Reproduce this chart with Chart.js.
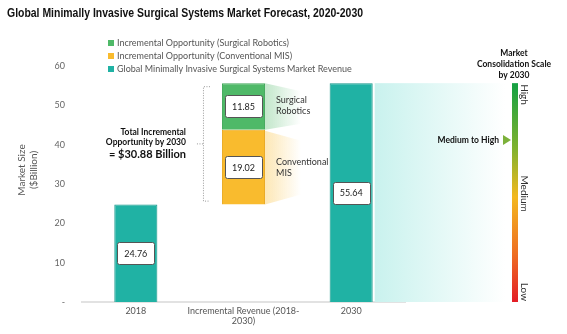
<!DOCTYPE html>
<html>
<head>
<meta charset="utf-8">
<script src="https://cdn.jsdelivr.net/npm/chart.js@4"></script>
<style>
  html, body { margin: 0; padding: 0; background: #fff; }
  #wrap { width: 567px; height: 334px; position: relative; }
</style>
</head>
<body>
<div id="wrap"><canvas id="c"></canvas></div>
<script>
var categories = ["2018", ["Incremental Revenue (2018-", "2030)"], "2030"];
var marketRevenue = [24.76, null, 55.64];
var conventionalMIS = [null, 19.02, null];
var surgicalRobotics = [null, 11.85, null];
var yTicks = [0, 10, 20, 30, 40, 50, 60];
var legendNames = [
  "Incremental Opportunity (Surgical Robotics)",
  "Incremental Opportunity (Conventional MIS)",
  "Global Minimally Invasive Surgical Systems Market Revenue"
];
var titleText = "Global Minimally Invasive Surgical Systems Market Forecast, 2020-2030";
var totalText = ["Total Incremental", "Opportunity by 2030", "= $30.88 Billion"];
var scaleHeader = ["Market", "Consolidation Scale", "by 2030"];
var scaleLevels = ["High", "Medium", "Low"];
var scaleMarker = "Medium to High";

var colors = {
  teal: "#20b2a4", tealEdge: "#15978a",
  green: "#4fb968", greenEdge: "#43a85b",
  orange: "#f9bb2e", orangeEdge: "#eaa923"
};
var FONT = "Lato, 'Open Sans', sans-serif";

// floating bars for the incremental column, sitting on top of the 2018 value
var base = marketRevenue[0];
var convRange = conventionalMIS.map(function (v) { return v == null ? null : [base, base + v]; });
var robRange = surgicalRobotics.map(function (v, i) {
  return v == null ? null : [base + conventionalMIS[i], base + conventionalMIS[i] + v];
});

function box(ctx, cx, cy, text) {
  ctx.font = "9px " + FONT;
  var w = ctx.measureText(text).width + 14, h = 22;
  ctx.fillStyle = "#fff";
  ctx.strokeStyle = "#555";
  ctx.lineWidth = 1;
  ctx.beginPath();
  ctx.roundRect(Math.round(cx - w / 2) + 0.5, Math.round(cy - h / 2) + 0.5, Math.round(w), h, 2);
  ctx.fill();
  ctx.stroke();
  ctx.fillStyle = "#222";
  ctx.textAlign = "center";
  ctx.textBaseline = "middle";
  ctx.fillText(text, cx, cy + 0.5);
}

var decor = {
  id: "decor",
  beforeDatasetsDraw: function (chart) {
    var ctx = chart.ctx, ya = chart.scales.y;
    var rev = chart.getDatasetMeta(0).data[2];
    var right = rev.x + rev.width / 2 + 2;
    var top = ya.getPixelForValue(marketRevenue[2]);
    var bot = ya.getPixelForValue(0);
    var g = ctx.createLinearGradient(right, 0, 505, 0);
    g.addColorStop(0, "#c9f2ee");
    g.addColorStop(1, "#ffffff");
    ctx.fillStyle = g;
    ctx.fillRect(right, top, 505 - right, bot - top);

    // callout fans beside the incremental bar
    var rob = chart.getDatasetMeta(2).data[1];
    var conv = chart.getDatasetMeta(1).data[1];
    var x0 = rob.x + rob.width / 2, x1 = x0 + 36;
    var g1 = ctx.createLinearGradient(x0, 0, x1, 0);
    g1.addColorStop(0, "rgba(79,185,104,0.35)");
    g1.addColorStop(1, "rgba(79,185,104,0)");
    ctx.fillStyle = g1;
    ctx.beginPath();
    ctx.moveTo(x0, rob.y); ctx.lineTo(x1, rob.y + 8); ctx.lineTo(x1, rob.base - 6); ctx.lineTo(x0, rob.base);
    ctx.fill();
    var g2 = ctx.createLinearGradient(x0, 0, x1, 0);
    g2.addColorStop(0, "rgba(249,187,46,0.35)");
    g2.addColorStop(1, "rgba(249,187,46,0)");
    ctx.fillStyle = g2;
    ctx.beginPath();
    ctx.moveTo(x0, conv.y + 1); ctx.lineTo(x1, conv.y + 11); ctx.lineTo(x1, conv.base - 10); ctx.lineTo(x0, conv.base);
    ctx.fill();
  },
  afterDatasetsDraw: function (chart) {
    var ctx = chart.ctx, ya = chart.scales.y;
    ctx.save();
    // value boxes
    var sets = [marketRevenue, conventionalMIS, surgicalRobotics];
    sets.forEach(function (vals, d) {
      chart.getDatasetMeta(d).data.forEach(function (el, i) {
        if (vals[i] == null) return;
        box(ctx, el.x, (el.y + el.base) / 2, vals[i].toFixed(2));
      });
    });

    // callout text
    var rob = chart.getDatasetMeta(2).data[1];
    var conv = chart.getDatasetMeta(1).data[1];
    var tx = rob.x + rob.width / 2 + 11;
    ctx.font = "9px " + FONT;
    ctx.fillStyle = "#333";
    ctx.textAlign = "left";
    ctx.textBaseline = "middle";
    var ry = (rob.y + rob.base) / 2;
    ctx.fillText("Surgical", tx, ry - 6);
    ctx.fillText("Robotics", tx, ry + 5);
    ctx.fillText("Conventional", tx, ry + 56);
    ctx.fillText("MIS", tx, ry + 67);

    // bracket
    var bx = conv.x - conv.width / 2 - 19;
    var bt = rob.y + 3, bb = conv.base - 4, bm = (bt + bb) / 2;
    ctx.strokeStyle = "#999";
    ctx.setLineDash([1, 1.5]);
    ctx.lineWidth = 1;
    ctx.beginPath();
    ctx.moveTo(bx + 7, bt + 0.5); ctx.lineTo(bx + 0.5, bt + 0.5); ctx.lineTo(bx + 0.5, bb + 0.5); ctx.lineTo(bx + 7, bb + 0.5);
    ctx.moveTo(bx, bm + 0.5); ctx.lineTo(bx - 7, bm + 0.5);
    ctx.stroke();
    ctx.setLineDash([]);

    // total text
    ctx.textAlign = "right";
    ctx.fillStyle = "#111";
    ctx.font = "bold 8.5px " + FONT;
    ctx.fillText(totalText[0], bx - 17, bm - 11);
    ctx.fillText(totalText[1], bx - 17, bm - 1);
    ctx.font = "bold 11px " + FONT;
    ctx.fillText(totalText[2], bx - 17, bm + 11);

    // consolidation scale
    var sx = 512, top = ya.getPixelForValue(marketRevenue[2]), bot = ya.getPixelForValue(0);
    var g = ctx.createLinearGradient(0, top, 0, bot);
    g.addColorStop(0, "#13a043");
    g.addColorStop(0.3, "#80b22e");
    g.addColorStop(0.52, "#f3b81f");
    g.addColorStop(0.78, "#ee6e22");
    g.addColorStop(1, "#e31d26");
    ctx.fillStyle = g;
    ctx.fillRect(sx, top, 6, bot - top);

    ctx.textAlign = "center";
    ctx.fillStyle = "#111";
    ctx.font = "bold 8.5px " + FONT;
    ctx.fillText(scaleHeader[0], sx + 2, 53);
    ctx.fillText(scaleHeader[1], sx + 2, 64);
    ctx.fillText(scaleHeader[2], sx + 2, 75);

    ctx.save();
    ctx.translate(sx + 12, 0);
    ctx.rotate(Math.PI / 2);
    ctx.font = "10px " + FONT;
    ctx.fillStyle = "#333";
    ctx.textBaseline = "middle";
    ctx.textAlign = "left";
    ctx.fillText(scaleLevels[0], top + 1, 0);
    ctx.textAlign = "center";
    ctx.fillText(scaleLevels[1], (top + bot) / 2 + 1, 0);
    ctx.textAlign = "right";
    ctx.fillText(scaleLevels[2], bot - 1, 0);
    ctx.restore();

    var my = top + (bot - top) * 0.26;
    ctx.fillStyle = "#7cb13a";
    ctx.beginPath();
    ctx.moveTo(sx - 9, my - 5); ctx.lineTo(sx - 1, my); ctx.lineTo(sx - 9, my + 5);
    ctx.closePath();
    ctx.fill();
    ctx.fillStyle = "#111";
    ctx.font = "bold 8.5px " + FONT;
    ctx.textAlign = "right";
    ctx.fillText(scaleMarker, sx - 13, my);

    // legend
    var legCols = [colors.green, colors.orange, colors.teal];
    ctx.font = "9px " + FONT;
    ctx.textAlign = "left";
    legendNames.forEach(function (n, i) {
      var ly = 43 + i * 13;
      ctx.fillStyle = legCols[i];
      ctx.fillRect(108, ly - 3, 6, 6);
      ctx.fillStyle = "#555";
      ctx.fillText(n, 117, ly);
    });

    // y title
    ctx.save();
    ctx.translate(0, 170);
    ctx.rotate(-Math.PI / 2);
    ctx.font = "10px " + FONT;
    ctx.fillStyle = "#555";
    ctx.textAlign = "center";
    ctx.fillText("Market Size", 0, 22);
    ctx.fillText("($Billion)", 0, 34);
    ctx.restore();

    // title, squeezed to the original width
    ctx.save();
    ctx.font = "bold 13px 'Liberation Sans', Arial, sans-serif";
    ctx.fillStyle = "#111";
    ctx.textAlign = "left";
    var w = ctx.measureText(titleText).width;
    ctx.translate(7, 13);
    ctx.scale(356 / w, 1);
    ctx.fillText(titleText, 0, 0);
    ctx.restore();

    ctx.restore();
  }
};

new Chart(document.getElementById("c"), {
  type: "bar",
  data: {
    labels: categories,
    datasets: [
      { label: legendNames[2], data: marketRevenue, backgroundColor: colors.teal, borderColor: colors.tealEdge, borderWidth: 1, grouped: false },
      { label: legendNames[1], data: convRange, backgroundColor: colors.orange, borderColor: colors.orangeEdge, borderWidth: 1, grouped: false },
      { label: legendNames[0], data: robRange, backgroundColor: colors.green, borderColor: colors.greenEdge, borderWidth: 1, grouped: false }
    ]
  },
  options: {
    responsive: true,
    maintainAspectRatio: false,
    animation: false,
    layout: { padding: { left: 0, right: 162, top: 66, bottom: 0 } },
    datasets: { bar: { barPercentage: 0.4, categoryPercentage: 1 } },
    plugins: { legend: { display: false }, tooltip: { enabled: false }, title: { display: false } },
    scales: {
      x: {
        grid: { display: false, drawTicks: false },
        border: { display: true, color: "#e2e2e2", width: 2 },
        ticks: { color: "#555", font: { size: 9, family: FONT, lineHeight: 1.15 }, padding: 4, maxRotation: 0, autoSkip: false },
        afterFit: function (s) { s.height = 32; }
      },
      y: {
        min: 0, max: 60,
        afterBuildTicks: function (s) { s.ticks = yTicks.map(function (v) { return { value: v }; }); },
        grid: { display: false },
        border: { display: false },
        ticks: {
          color: "#666", font: { size: 9, family: FONT }, padding: 9,
          callback: function (v) { return v === 0 ? "-" : v; }
        },
        afterFit: function (s) { s.width = 82; }
      }
    }
  },
  plugins: [decor]
});
</script>
</body>
</html>
